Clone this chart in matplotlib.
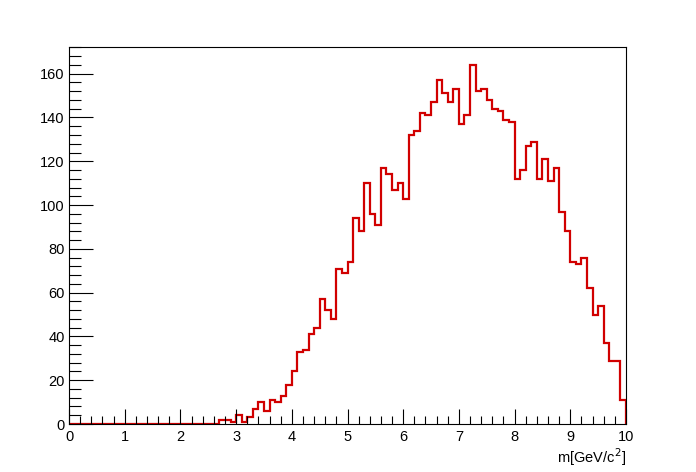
import numpy as np
import matplotlib
matplotlib.use("Agg")
import matplotlib.pyplot as plt
from matplotlib.ticker import MultipleLocator

# bin edges: 100 bins on [0, 10]
edges = np.linspace(0, 10, 101)

# counts, bins 0.0-2.7 are empty
counts_low = [0] * 27
counts_high = [
    2, 2, 1, 4, 1, 3, 7, 10, 6, 11,           # 2.7 - 3.6
    10, 13, 18, 24, 33, 34, 41, 44, 57, 52,   # 3.7 - 4.6
    48, 71, 69, 74, 94, 88, 110, 96, 91, 117, # 4.7 - 5.6
    114, 107, 110, 103, 132, 134, 142, 141, 147, 157,  # 5.7 - 6.6
    151, 147, 153, 137, 141, 164, 152, 153, 148, 144,  # 6.7 - 7.6
    143, 139, 138, 112, 116, 127, 129, 112, 121, 111,  # 7.7 - 8.6
    117, 97, 88, 74, 73, 76, 62, 50, 54, 37,  # 8.7 - 9.6
    29, 29, 11,                               # 9.7 - 9.9
]
counts = np.array(counts_low + counts_high, dtype=float)

x_label = "m[GeV/c$^2$]"

plt.rcParams['font.family'] = ['Liberation Sans', 'DejaVu Sans']

fig = plt.figure(figsize=(6.96, 4.72), dpi=100)
ax = fig.add_axes([69 / 696, 1 - 424 / 472, (626 - 69) / 696, (424 - 47) / 472])

ax.stairs(counts, edges, color="#d10000", linewidth=1.6, baseline=0)

ax.set_xlim(0, 10)
ax.set_ylim(0, counts.max() * 1.05)

ax.xaxis.set_major_locator(MultipleLocator(1))
ax.xaxis.set_minor_locator(MultipleLocator(0.2))
ax.yaxis.set_major_locator(MultipleLocator(20))
ax.yaxis.set_minor_locator(MultipleLocator(4))

ax.tick_params(axis="both", which="both", direction="in", top=False, right=False,
               labelsize=10.5, width=0.8, color="black")
ax.tick_params(axis="x", which="major", length=11, pad=4)
ax.tick_params(axis="x", which="minor", length=5.5)
ax.tick_params(axis="y", which="major", length=17, pad=3)
ax.tick_params(axis="y", which="minor", length=8.5)

for s in ax.spines.values():
    s.set_linewidth(0.8)

ax.set_xlabel(x_label, fontsize=10.5, loc="right", labelpad=2)

fig.savefig("out.png", dpi=100)
